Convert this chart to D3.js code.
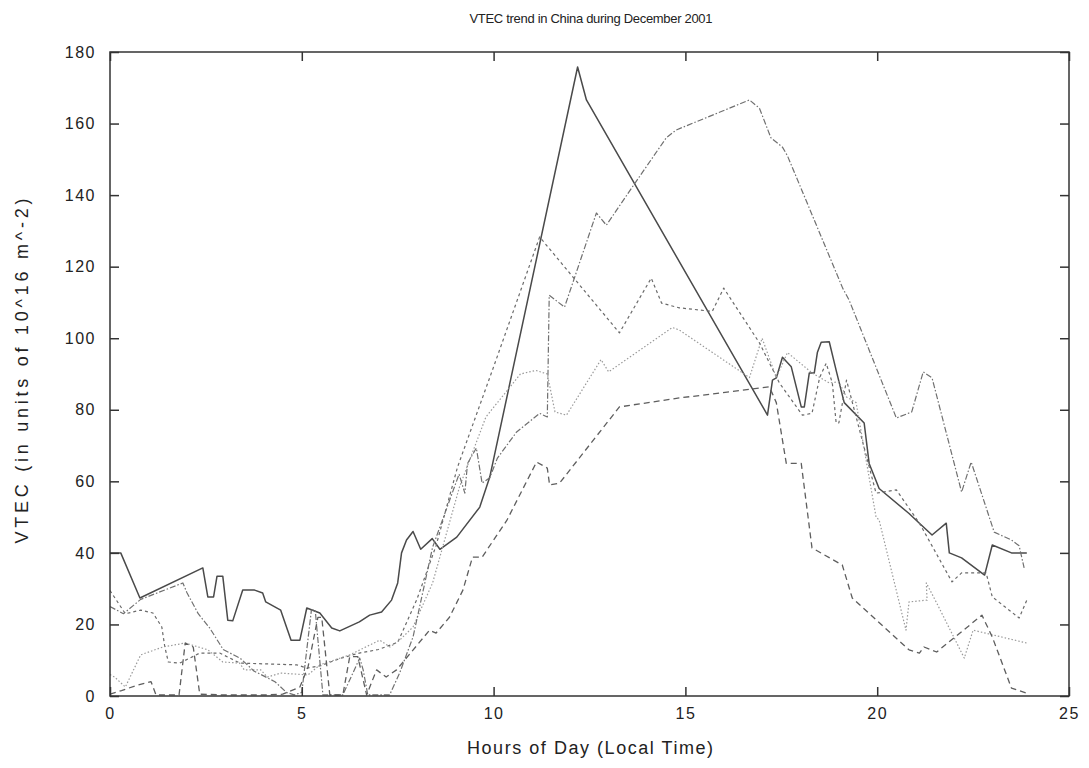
<!DOCTYPE html>
<html>
<head>
<meta charset="utf-8">
<title>VTEC trend in China during December 2001</title>
<script src="https://d3js.org/d3.v7.min.js"></script>
<style>
    body { margin: 0; background: #fff; }
    svg text { font-family: "Liberation Sans", Arial, sans-serif; fill: #222; }
</style>
</head>
<body>
<div id="chart"></div>
<script>
// hours of day (local time) and VTEC values, one array pair per station trace
var hoursA = [0,0.28,0.78,2.42,2.55,2.7,2.79,2.94,3.07,3.2,3.46,3.77,3.98,4.06,4.45,4.63,4.72,4.95,5.13,5.47,5.78,5.99,6.5,6.77,7.08,7.34,7.5,7.6,7.73,7.9,8.1,8.4,8.6,9.04,9.64,9.9,12.19,12.42,17.14,17.27,17.37,17.53,17.76,18.02,18.1,18.23,18.36,18.44,18.54,18.75,18.93,19.14,19.66,19.79,20.05,20.83,21.1,21.43,21.8,21.88,22.2,22.8,23,23.5,23.9];
var vtecA  = [40,40,27.4,35.8,27.7,27.7,33.5,33.5,21.2,21,29.6,29.6,28.8,26.3,24,18.4,15.6,15.6,24.6,23.2,19,18.2,20.7,22.6,23.5,26.8,31.6,40,43.6,46,41,44,41,44.4,52.8,61.2,175.8,166.6,78.5,88.3,88.9,94.7,92,80.8,80.8,90.3,90.3,96,98.9,99,91,82,76.3,65,58,51,48.3,45,48.3,40,38.6,33.8,42.2,40,40];

var hoursB = [0,0.4,0.8,1.12,1.35,1.43,1.52,1.82,2.34,2.86,3.39,4.87,5.13,5.5,6.0,6.5,7.0,7.5,8.0,8.5,9.06,10,11.2,13.28,14.11,14.38,14.84,15.7,16.0,16.2,16.93,17.45,18.05,18.3,18.5,18.67,18.83,18.93,19.0,19.2,19.97,20.5,21.1,21.2,21.95,22.2,22.84,23,23.7,23.9];
var vtecB  = [29.5,23,24,23.2,19.3,13.7,9.5,9.2,12,12,9.2,8.7,7.8,8.5,10.5,12,13,15,27,42,64,92,128.3,101.5,116.8,109.8,108.5,107.5,114,110.7,98.7,87.5,78.5,79,89,93,87.5,76.3,76.3,88.3,56.7,57.6,48.3,46.4,31.9,34.4,34.4,27.7,21.8,26.8];

var hoursC = [0,0.12,0.4,0.8,1.38,1.96,2.55,2.94,3.38,3.5,3.93,4.1,4.45,5.16,5.47,6.25,7.03,7.3,7.55,7.9,8.41,9.11,9.8,10.7,11.1,11.4,11.6,11.9,12.8,13,14.66,14.84,16.67,17.0,17.37,17.66,18.3,18.75,19.0,19.2,19.45,19.97,20.05,20.75,20.83,21.3,21.28,21.55,22.27,22.5,23.9];
var vtecC  = [6,5.3,2.5,11.5,13.7,14.8,12.9,9.5,9.2,7.3,7.3,5.3,6.4,5.9,8.7,11.5,15.6,13.7,15.6,19.3,31.6,58.4,78,90,91,90,79.4,78.5,94,90.6,103,102.3,89,100,89,96,90.3,87.5,87.8,83.6,82,50,49.2,18.4,26.3,26.8,31.6,26,10.6,18.4,14.8];

var hoursD = [0,0.35,0.8,1.9,2.0,2.3,2.6,2.95,3.4,3.75,4.3,4.6,4.8,5.0,5.25,5.35,5.55,6.07,6.51,6.6,6.72,7.29,7.55,7.9,8.15,8.41,9.1,9.25,9.32,9.55,9.7,9.9,10.1,10.6,11.2,11.4,11.45,11.85,12.68,12.94,13.6,14.5,14.76,16.67,16.93,17.23,17.53,17.66,19.1,19.27,20.5,20.9,21.2,21.43,22.2,22.45,23.05,23.5,23.7,23.83];
var vtecD  = [25,23,27,31.6,29,23,19,13,10.5,7,4,1,0.3,1,24,24,0.3,0.3,10.6,7.3,0.3,0.3,6.4,16.5,28.8,41.6,62,56.7,65,69.3,59.5,61,66.5,73.8,79,78,112,108.7,135,131.6,142,156,158.2,166.6,164.3,156,153.4,151,114,110.6,77.7,79.4,90.6,88.9,57,65.4,45.8,43.6,42,35.8];

var hoursE = [0,0.3,0.7,1.07,1.2,1.8,1.96,2.17,2.34,3.0,4.0,4.5,4.95,5.16,5.42,5.52,5.73,6.07,6.25,6.46,6.69,6.95,7.2,7.47,8.33,8.5,8.85,9.2,9.45,9.7,10.34,11.12,11.4,11.46,11.72,13.28,14.84,16.15,17.19,17.37,17.63,18.02,18.3,19.09,19.35,20.83,21.1,21.22,21.55,22.73,23,23.5,23.9];
var vtecE  = [0.5,1.5,3,4,0.3,0.3,14.8,13.7,0.5,0.3,0.3,0.5,2.5,8,22,22,0.3,0.3,11,11,0.3,7.3,5.3,7.3,18.4,17.6,22,29.6,38.8,38.8,49,65.4,63.7,59,59.5,80.8,83.3,85,86.4,82,65,65,41.4,36.6,27.4,12.9,12,13.7,12.3,22.6,16.5,2.2,0.8];

var xTicks = [0, 5, 10, 15, 20, 25];
var yTicks = [0, 20, 40, 60, 80, 100, 120, 140, 160, 180];

var width = 1089, height = 768;
var margin = {left: 110, right: 20, top: 52, bottom: 72};

var svg = d3.select("#chart").append("svg")
    .attr("width", width)
    .attr("height", height);

var x = d3.scaleLinear().domain([0, 25]).range([margin.left, width - margin.right]);
var y = d3.scaleLinear().domain([0, 180]).range([height - margin.bottom, margin.top]);

svg.append("clipPath").attr("id", "plotclip")
    .append("rect")
    .attr("x", x(0)).attr("y", y(180))
    .attr("width", x(25) - x(0)).attr("height", y(0) - y(180));

// series: solid, short dash, dotted, dash-dot, long dash
var series = [
    {h: hoursA, v: vtecA, color: "#4a4a4a", w: 1.5, dash: null},
    {h: hoursB, v: vtecB, color: "#6a6a6a", w: 1.2, dash: "3,3"},
    {h: hoursC, v: vtecC, color: "#9a9a9a", w: 1.2, dash: "1.5,2"},
    {h: hoursD, v: vtecD, color: "#707070", w: 1.2, dash: "6,2,1.5,2"},
    {h: hoursE, v: vtecE, color: "#5e5e5e", w: 1.3, dash: "6,4"}
];

var line = d3.line()
    .x(function(d) { return x(d[0]); })
    .y(function(d) { return y(d[1]); });

svg.append("g").attr("clip-path", "url(#plotclip)")
    .selectAll("path")
    .data(series)
    .enter()
    .append("path")
    .attr("d", function(s) { return line(d3.zip(s.h, s.v)); })
    .attr("fill", "none")
    .attr("stroke", function(s) { return s.color; })
    .attr("stroke-width", function(s) { return s.w; })
    .attr("stroke-dasharray", function(s) { return s.dash; })
    .attr("stroke-linejoin", "round");

// frame with inward ticks on all four sides
var tickLen = 9;
svg.append("g").attr("transform", "translate(0," + y(0) + ")")
    .call(d3.axisBottom(x).tickValues(xTicks).tickSizeInner(-tickLen).tickSizeOuter(0).tickPadding(12))
    .call(function(g) { g.select(".domain").remove(); });
svg.append("g").attr("transform", "translate(0," + y(180) + ")")
    .call(d3.axisTop(x).tickValues(xTicks).tickSizeInner(-tickLen).tickSizeOuter(0).tickFormat(""))
    .call(function(g) { g.select(".domain").remove(); });
svg.append("g").attr("transform", "translate(" + x(0) + ",0)")
    .call(d3.axisLeft(y).tickValues(yTicks).tickSizeInner(-tickLen).tickSizeOuter(0).tickPadding(14))
    .call(function(g) { g.select(".domain").remove(); });
svg.append("g").attr("transform", "translate(" + x(25) + ",0)")
    .call(d3.axisRight(y).tickValues(yTicks).tickSizeInner(-tickLen).tickSizeOuter(0).tickFormat(""))
    .call(function(g) { g.select(".domain").remove(); });

svg.selectAll(".tick line").attr("stroke", "#333").attr("stroke-width", 1.5);
svg.selectAll(".tick text")
    .style("font-family", "'Liberation Sans', Arial, sans-serif")
    .style("font-size", "16px")
    .style("letter-spacing", "1.5px")
    .attr("fill", "#222");

svg.append("rect")
    .attr("x", x(0)).attr("y", y(180))
    .attr("width", x(25) - x(0)).attr("height", y(0) - y(180))
    .attr("fill", "none")
    .attr("stroke", "#333")
    .attr("stroke-width", 1.5);

svg.append("text")
    .attr("x", 591).attr("y", 23)
    .attr("text-anchor", "middle")
    .attr("textLength", 243)
    .attr("lengthAdjust", "spacing")
    .style("font-size", "13px")
    .text("VTEC trend in China during December 2001");

svg.append("text")
    .attr("x", 590).attr("y", 754)
    .attr("text-anchor", "middle")
    .attr("textLength", 246)
    .attr("lengthAdjust", "spacing")
    .style("font-size", "18px")
    .text("Hours of Day (Local Time)");

svg.append("text")
    .attr("transform", "translate(28,371) rotate(-90)")
    .attr("text-anchor", "middle")
    .attr("textLength", 345)
    .attr("lengthAdjust", "spacing")
    .style("font-size", "18px")
    .text("VTEC (in units of 10^16 m^-2)");
</script>
</body>
</html>
